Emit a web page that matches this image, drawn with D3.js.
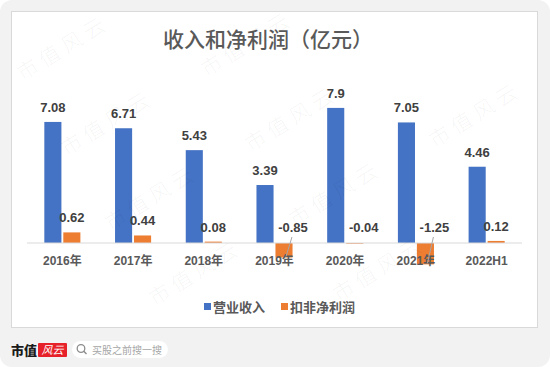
<!DOCTYPE html>
<html lang="zh">
<head>
<meta charset="UTF-8">
<title>收入和净利润（亿元）</title>
<script src="https://d3js.org/d3.v7.min.js"></script>
<style>
  html, body { margin: 0; padding: 0; background: #fff; }
  svg text { font-family: "Liberation Sans", "Noto Sans CJK SC", sans-serif; }
</style>
</head>
<body>
<div id="chart"></div>
<script>
// data
const categories = ["2016年", "2017年", "2018年", "2019年", "2020年", "2021年", "2022H1"];
const revenue = [7.08, 6.71, 5.43, 3.39, 7.9, 7.05, 4.46];       // 营业收入
const netProfit = [0.62, 0.44, 0.08, -0.85, -0.04, -1.25, 0.12];  // 扣非净利润
const seriesNames = ["营业收入", "扣非净利润"];
const colors = ["#4472c4", "#ed7d31"];

const width = 550, height = 367;

const svg = d3.select("#chart").append("svg")
    .attr("width", width)
    .attr("height", height);

// card + white panel
svg.append("rect")
    .attr("x", 0).attr("y", 0)
    .attr("width", width).attr("height", height)
    .attr("rx", 12)
    .attr("fill", "#f2f2f2");

svg.append("rect")
    .attr("x", 11.5).attr("y", 11.5)
    .attr("width", 526).attr("height", 316)
    .attr("fill", "#fff")
    .attr("stroke", "#d9d9d9");

// title
svg.append("text")
    .attr("x", 268).attr("y", 47)
    .attr("text-anchor", "middle")
    .style("font-family", "'Noto Sans CJK SC', sans-serif")
    .style("font-size", "21px")
    .style("font-weight", 500)
    .attr("fill", "#595959")
    .text("收入和净利润（亿元）");

// scales
const x0 = d3.scaleBand()
    .domain(categories)
    .range([27, 522])
    .paddingInner(0.49)
    .paddingOuter(0.245);

const x1 = d3.scaleBand()
    .domain([0, 1])
    .range([0, x0.bandwidth()])
    .paddingInner(0.1);

const y = d3.scaleLinear()
    .domain([-2, 9])
    .range([243 + 2 * 17.1, 243 - 9 * 17.1]);

const rows = categories.map((c, i) => ({ cat: c, vals: [revenue[i], netProfit[i]] }));

// bars
const groups = svg.append("g").selectAll("g")
    .data(rows)
    .join("g")
    .attr("transform", d => `translate(${x0(d.cat)},0)`);

groups.selectAll("rect")
    .data(d => d.vals.map((v, k) => ({ v, k })))
    .join("rect")
    .attr("x", d => x1(d.k))
    .attr("width", x1.bandwidth())
    .attr("y", d => y(Math.max(0, d.v)))
    .attr("height", d => Math.abs(y(d.v) - y(0)))
    .attr("fill", d => colors[d.k]);

// axis line
const axis = svg.append("g")
    .attr("transform", `translate(0,${y(0)})`)
    .call(d3.axisBottom(x0).tickSize(0).tickPadding(0));
axis.select(".domain").attr("stroke", "#d9d9d9").attr("d", "M27,0H522");
axis.selectAll("text").remove();

// category labels (drawn above bars)
svg.append("g").selectAll("text")
    .data(categories)
    .join("text")
    .attr("x", d => x0(d) + x0.bandwidth() / 2)
    .attr("y", y(0) + 22)
    .attr("text-anchor", "middle")
    .style("font-size", "12px")
    .style("font-weight", "bold")
    .attr("fill", "#595959")
    .text(d => d);

// value labels
const labels = [];
rows.forEach(r => r.vals.forEach((v, k) => {
    const cx = x0(r.cat) + x1(k) + x1.bandwidth() / 2;
    labels.push({ v, k, cx });
}));

svg.append("g").selectAll("text")
    .data(labels)
    .join("text")
    .attr("x", d => d.v < 0 ? d.cx + 9 : d.cx)
    .attr("y", d => d.v < 0 ? y(0) - 11 : y(d.v) - 10)
    .attr("text-anchor", "middle")
    .style("font-size", "13px")
    .style("font-weight", "bold")
    .attr("fill", "#404040")
    .text(d => String(d.v));

// leader lines for labels pulled away from their negative bars
svg.append("g").selectAll("line")
    .data(labels.filter(d => d.v < -0.5))
    .join("line")
    .attr("x1", d => d.cx + 8)
    .attr("y1", y(0) - 6)
    .attr("x2", d => d.cx + 2)
    .attr("y2", d => y(d.v) - 1)
    .attr("stroke", "#a6a6a6")
    .attr("stroke-width", 1);

// legend
const legendX = [204, 281];
const legend = svg.append("g").selectAll("g")
    .data(seriesNames)
    .join("g")
    .attr("transform", (d, i) => `translate(${legendX[i]},303)`);
legend.append("rect")
    .attr("width", 7).attr("height", 7)
    .attr("fill", (d, i) => colors[i]);
legend.append("text")
    .attr("x", 9).attr("y", 9)
    .style("font-family", "'Noto Sans CJK SC', sans-serif")
    .style("font-size", "13px")
    .style("font-weight", "bold")
    .attr("fill", "#595959")
    .text(d => d);

// footer brand
svg.append("text")
    .attr("x", 11).attr("y", 355)
    .style("font-family", "'Noto Sans CJK SC', sans-serif")
    .style("font-size", "13px")
    .style("font-weight", 900)
    .attr("fill", "#1a1a1a")
    .text("市值");
svg.append("rect")
    .attr("x", 38).attr("y", 343)
    .attr("width", 29).attr("height", 14)
    .attr("rx", 1)
    .attr("fill", "#e62129");
svg.append("text")
    .attr("x", 52.5).attr("y", 354)
    .attr("text-anchor", "middle")
    .style("font-family", "'Noto Sans CJK SC', sans-serif")
    .style("font-size", "11px")
    .style("font-style", "italic")
    .attr("fill", "#fff")
    .text("风云");

svg.append("rect")
    .attr("x", 72).attr("y", 341)
    .attr("width", 96).attr("height", 17)
    .attr("rx", 8.5)
    .attr("fill", "#fff");
svg.append("circle")
    .attr("cx", 81).attr("cy", 348.5)
    .attr("r", 3.8)
    .attr("fill", "none")
    .attr("stroke", "#8c8c8c")
    .attr("stroke-width", 1.3);
svg.append("line")
    .attr("x1", 83.8).attr("y1", 351.3)
    .attr("x2", 86.5).attr("y2", 354)
    .attr("stroke", "#8c8c8c")
    .attr("stroke-width", 1.4);
svg.append("text")
    .attr("x", 92).attr("y", 353.5)
    .style("font-family", "'Noto Sans CJK SC', sans-serif")
    .style("font-size", "10px")
    .attr("fill", "#a6a6a6")
    .text("买股之前搜一搜");

// tiled watermark; copies that would run off the card are dropped
const marks = [];
for (let j = 0; j < 5; j++) {
    for (let i = -1; i < 4; i++) {
        marks.push([63 + 184 * i + 44 * j, 48 - 4 * i + 75 * j]);
    }
}
const wm = svg.append("g").selectAll("text")
    .data(marks)
    .join("text")
    .attr("transform", d => `translate(${d[0]},${d[1]}) rotate(-32)`)
    .attr("text-anchor", "middle")
    .attr("dy", "0.35em")
    .style("font-family", "'Noto Sans CJK SC', sans-serif")
    .style("font-size", "21px")
    .style("font-weight", 300)
    .style("letter-spacing", "5px")
    .attr("fill", "#000")
    .attr("fill-opacity", 0.05)
    .text("市值风云");
wm.each(function () {
    const b = this.getBoundingClientRect();
    if (b.left < 1 || b.top < 1 || b.right > width - 1 || b.bottom > height - 1) this.remove();
});
</script>
</body>
</html>
